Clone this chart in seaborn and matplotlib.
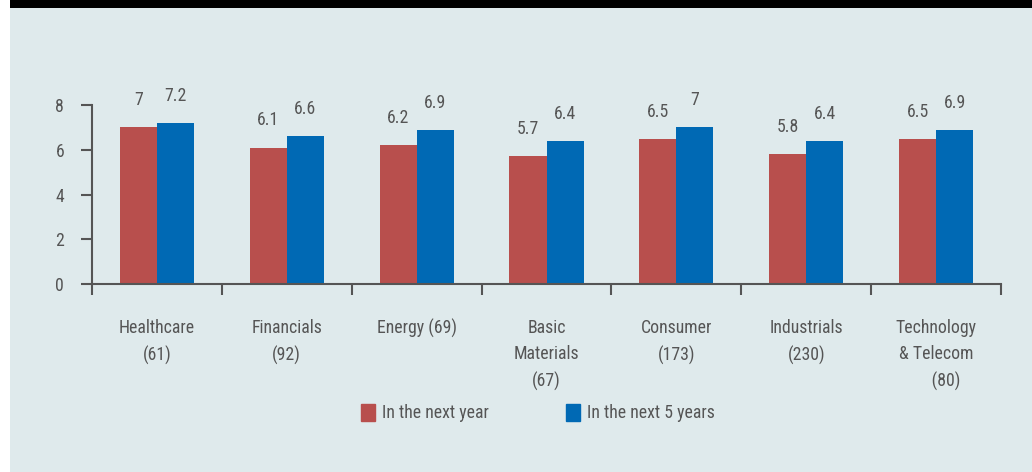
import pandas as pd
import matplotlib.pyplot as plt
import matplotlib.patches as mpatches
from matplotlib import font_manager
import seaborn as sns

# data
sectors = ['Healthcare\n(61)', 'Financials\n(92)', 'Energy (69)', 'Basic\nMaterials\n(67)',
           'Consumer\n(173)', 'Industrials\n(230)', 'Technology\n& Telecom\n     (80)']
next_year = [7.0, 6.1, 6.2, 5.7, 6.5, 5.8, 6.5]
next_5_years = [7.2, 6.6, 6.9, 6.4, 7.0, 6.4, 6.9]
series_names = ['In the next year', 'In the next 5 years']
colors = ['#b84f4d', '#0069b4']

df = pd.DataFrame({
    'sector': sectors * 2,
    'value': next_year + next_5_years,
    'series': [series_names[0]] * len(sectors) + [series_names[1]] * len(sectors),
})

# pick the narrowest font that is actually installed
installed = {f.name for f in font_manager.fontManager.ttflist}
font = next((f for f in ['Liberation Sans Narrow', 'Roboto Condensed', 'Roboto'] if f in installed),
            'DejaVu Sans')

sns.set_style('white')
plt.rcParams['font.family'] = [font, 'DejaVu Sans']
text_col = '#555555'
bg = '#dfeaec'
fs = 12.8

fig = plt.figure(figsize=(10.32, 4.72), dpi=100)
fig.patch.set_facecolor('white')
fig.patches.append(mpatches.Rectangle((10 / 1032, 0), 1, 1, transform=fig.transFigure,
                                      facecolor=bg, edgecolor='none', zorder=-2))
fig.patches.append(mpatches.Rectangle((10 / 1032, 464 / 472), 1, 1, transform=fig.transFigure,
                                      facecolor='black', edgecolor='none', zorder=-1))

ax = fig.add_axes([92 / 1032, 1 - 284 / 472, (1001 - 92) / 1032, 179 / 472])
ax.set_facecolor('none')
sns.barplot(data=df, x='sector', y='value', hue='series', palette=colors,
            width=0.57, ax=ax, legend=False, saturation=1, linewidth=0)

for container in ax.containers:
    ax.bar_label(container, labels=[f'{v:g}' for v in container.datavalues],
                 padding=13, fontsize=fs, color=text_col, clip_on=False)

ax.set_xlim(-0.5, len(sectors) - 0.5)
ax.set_ylim(0, 8)
ax.set_yticks([0, 2, 4, 6, 8])
ax.set_xlabel('')
ax.set_ylabel('')
for side in ['top', 'right']:
    ax.spines[side].set_visible(False)
for side in ['left', 'bottom']:
    ax.spines[side].set_color(text_col)
    ax.spines[side].set_linewidth(1.5)

ax.tick_params(axis='y', left=True, length=8, width=1.5, color=text_col,
               labelsize=fs, labelcolor=text_col, pad=12)
ax.tick_params(axis='x', which='major', length=0, labelsize=fs,
               labelcolor=text_col, pad=25)
ax.set_xticks([i - 0.5 for i in range(len(sectors) + 1)], minor=True)
ax.tick_params(axis='x', which='minor', bottom=True, length=8, width=1.5, color=text_col)
for lbl in ax.get_xticklabels():
    lbl.set_linespacing(1.6)
    lbl.set_verticalalignment('top')

handles = [mpatches.Patch(color=c, label=n) for c, n in zip(colors, series_names)]
fig.legend(handles=handles, loc='center', bbox_to_anchor=(538 / 1032, 1 - 413 / 472),
           ncol=2, frameon=False, fontsize=fs, labelcolor=text_col,
           handlelength=0.8, handleheight=1.1, handletextpad=0.4, columnspacing=4.3)

fig.savefig('out.png', dpi=100, facecolor=fig.get_facecolor())
